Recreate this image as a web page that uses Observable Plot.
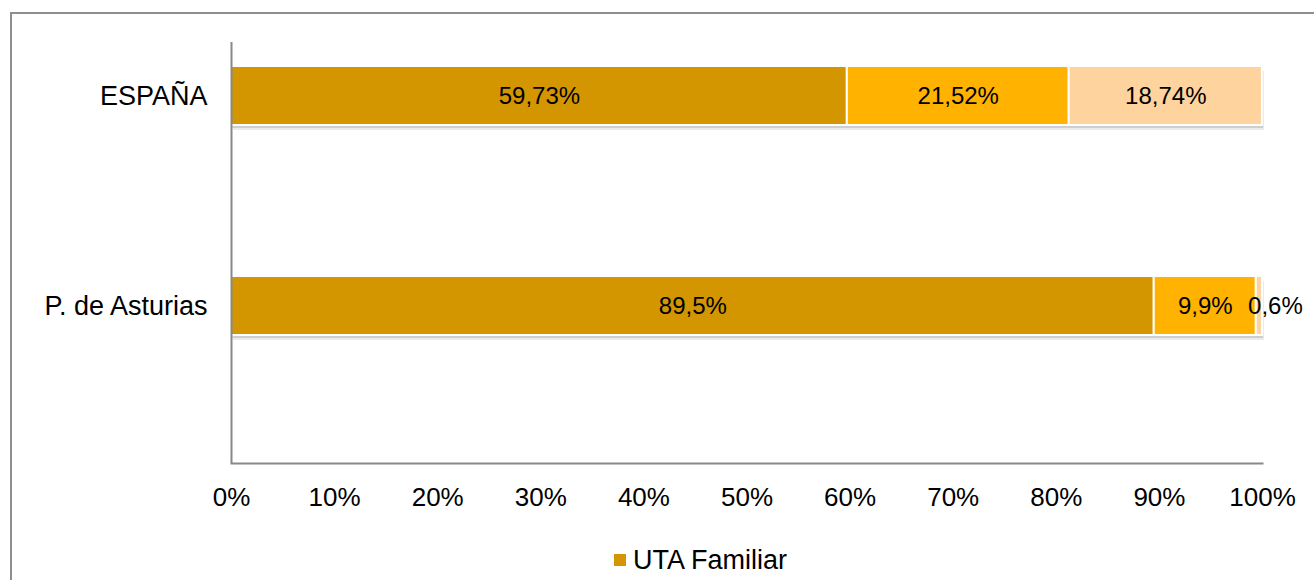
<!DOCTYPE html>
<html>
<head>
<meta charset="utf-8">
<script src="https://cdn.jsdelivr.net/npm/d3@7"></script>
<script src="https://cdn.jsdelivr.net/npm/@observablehq/plot@0.6"></script>
<style>
  html, body { margin: 0; padding: 0; background: #fff; overflow: hidden; width: 1314px; height: 580px; }
  #border { position: absolute; left: 10px; top: 12px; width: 1400px; height: 700px; border: 2px solid #8f8f8f; box-sizing: border-box; }
  #chart { position: absolute; left: 0; top: 0; }
  #legend { position: absolute; left: 614px; top: 545px; height: 30px; font-family: "Liberation Sans", Arial, sans-serif; font-size: 27px; color: #000; display: flex; align-items: center; white-space: nowrap; }
  #legend .sw { width: 12px; height: 12px; margin-right: 7px; }
</style>
</head>
<body>
<div id="border"></div>
<div id="chart"></div>
<div id="legend"></div>
<script>
const regions = ["ESPAÑA", "P. de Asturias"];
const series = ["UTA Familiar", "UTA Asalariada fija", "UTA Asalariada eventual"];
const colors = ["#D39600", "#FFB300", "#FFD39E"];
const espana = [59.73, 21.52, 18.74];
const asturias = [89.5, 9.9, 0.6];
const xTicks = [0, 10, 20, 30, 40, 50, 60, 70, 80, 90, 100];

const rows = [];
[espana, asturias].forEach((vals, i) => {
  vals.forEach((v, j) => rows.push({ region: regions[i], series: series[j], value: v }));
});
const fmt = v => String(v).replace(".", ",") + "%";

const plot = Plot.plot({
  width: 1314,
  height: 530,
  marginLeft: 231,
  marginRight: 52,
  marginTop: 42,
  marginBottom: 67,
  style: { fontFamily: "'Liberation Sans', Arial, sans-serif", fontSize: "26px", color: "#000", background: "transparent", overflow: "visible" },
  x: { domain: [0, 100] },
  y: { domain: regions, range: [66, 335.5], paddingInner: 0.72, paddingOuter: 0 },
  color: { domain: series, range: colors },
  marks: [
    Plot.barX(regions, { y: d => d, x1: 0, x2: 100, fill: "#000", fillOpacity: 0.08, dy: 5, dx: 2 }),
    Plot.barX(regions, { y: d => d, x1: 0, x2: 100, fill: "#000", fillOpacity: 0.12, dy: 3, dx: 1 }),
    Plot.barX(rows, Plot.stackX({ x: "value", y: "region", z: "series", fill: "series", stroke: "#fff", strokeWidth: 2 })),
    Plot.text(rows, Plot.stackX({ x: "value", y: "region", z: "series", text: d => d.value >= 1 ? fmt(d.value) : "", fill: "#000", fontSize: 24 })),
    Plot.text(rows, Plot.stackX({ x: "value", y: "region", z: "series", text: d => d.value < 1 ? fmt(d.value) : "", fill: "#000", fontSize: 24, dx: 16 })),
    Plot.ruleX([0], { stroke: "#888", strokeWidth: 2 }),
    Plot.frame({ anchor: "bottom", stroke: "#888", strokeWidth: 2 }),
    Plot.axisX({ ticks: xTicks, tickFormat: d => d + "%", tickSize: 0, tickPadding: 24, label: null }),
    Plot.axisY({ tickSize: 0, tickPadding: 24, label: null, fontSize: 27 })
  ]
});
document.getElementById("chart").appendChild(plot);

const legend = document.getElementById("legend");
const sw = document.createElement("span");
sw.className = "sw";
sw.style.background = colors[0];
legend.appendChild(sw);
const lt = document.createElement("span");
lt.textContent = series[0];
legend.appendChild(lt);
</script>
</body>
</html>
